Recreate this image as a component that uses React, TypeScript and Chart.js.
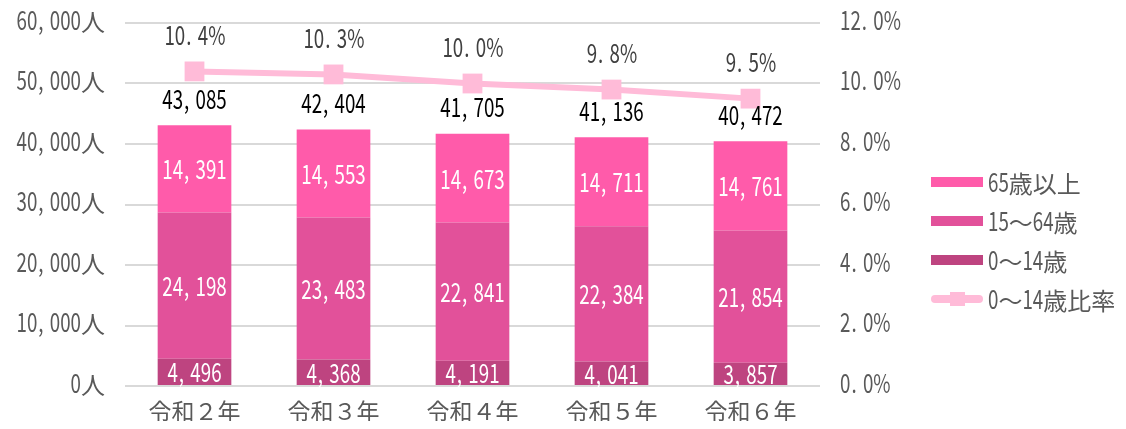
import React, { useEffect, useRef } from "react";
import { Chart, registerables } from "chart.js";

Chart.register(...registerables);

const categories = ["令和２年", "令和３年", "令和４年", "令和５年", "令和６年"];
const age0to14 = [4496, 4368, 4191, 4041, 3857];
const age15to64 = [24198, 23483, 22841, 22384, 21854];
const age65plus = [14391, 14553, 14673, 14711, 14761];
const totals = [43085, 42404, 41705, 41136, 40472];
const ratio0to14 = [10.4, 10.3, 10.0, 9.8, 9.5];

const seriesNames = ["65歳以上", "15～64歳", "0～14歳", "0～14歳比率"];
const leftTicks = [0, 10000, 20000, 30000, 40000, 50000, 60000];
const rightTicks = [0, 2, 4, 6, 8, 10, 12];

const C65 = "#FF5BAA";
const C15 = "#E2519A";
const C0 = "#BE4480";
const CLINE = "#FFBBD8";
const CJK = "'Noto Sans CJK JP', 'Noto Sans', sans-serif";
const GRAY = "#595959";

const fmt = (v: number) => v.toLocaleString("en-US");

// Draw text where digits/latin are rendered narrow (like a condensed UI font)
function drawText(
  ctx: CanvasRenderingContext2D,
  text: string,
  x: number,
  cy: number,
  align: "left" | "center" | "right",
  color: string,
  kanjiSize = 24
) {
  const numSize = 26;
  const digitAdv = 10.4;
  ctx.save();
  ctx.fillStyle = color;
  ctx.textBaseline = "alphabetic";
  ctx.textAlign = "left";
  ctx.font = `${numSize}px ${CJK}`;
  const sx = digitAdv / ctx.measureText("0").width;
  const parts: { ch: string; adv: number; kind: string }[] = [];
  for (const ch of text) {
    if (/[0-9]/.test(ch)) {
      parts.push({ ch, adv: digitAdv, kind: "num" });
    } else if (ch === "," || ch === ".") {
      parts.push({ ch, adv: 12.5, kind: "punct" });
    } else if (ch === "%") {
      ctx.font = `${numSize}px ${CJK}`;
      parts.push({ ch, adv: ctx.measureText(ch).width * sx * 0.95, kind: "num" });
    } else {
      ctx.font = `${kanjiSize}px ${CJK}`;
      parts.push({ ch, adv: ctx.measureText(ch).width, kind: "other" });
    }
  }
  const total = parts.reduce((s, p) => s + p.adv, 0);
  let px = align === "left" ? x : align === "center" ? x - total / 2 : x - total;
  const baseline = cy + 0.733 * numSize * 0.5;
  for (const p of parts) {
    if (p.kind === "other") {
      ctx.font = `${kanjiSize}px ${CJK}`;
      ctx.fillText(p.ch, px, baseline + 1);
    } else {
      ctx.font = `${numSize}px ${CJK}`;
      ctx.save();
      ctx.translate(px + (p.kind === "punct" ? 1 : 0), baseline);
      ctx.scale(sx, 1);
      ctx.fillText(p.ch, 0, 0);
      ctx.restore();
    }
    px += p.adv;
  }
  ctx.restore();
}

const labelsPlugin = {
  id: "customLabels",
  afterDatasetsDraw(chart: any) {
    const ctx = chart.ctx;
    const area = chart.chartArea;
    const yS = chart.scales.y;
    const y1S = chart.scales.y1;
    const xS = chart.scales.x;
    // axis tick labels
    leftTicks.forEach((v) => {
      drawText(ctx, fmt(v) + "人", area.left - 20, yS.getPixelForValue(v) - 3, "right", GRAY);
    });
    rightTicks.forEach((v) => {
      drawText(ctx, v.toFixed(1) + "%", area.right + 20, y1S.getPixelForValue(v) - 3, "left", GRAY);
    });
    ctx.save();
    ctx.font = `23px ${CJK}`;
    ctx.fillStyle = GRAY;
    ctx.textAlign = "center";
    ctx.textBaseline = "middle";
    categories.forEach((c, i) => {
      ctx.fillText(c, xS.getPixelForValue(i), area.bottom + 25);
    });
    ctx.restore();
    // bar values
    [0, 1, 2].forEach((di) => {
      const meta = chart.getDatasetMeta(di);
      const data = chart.data.datasets[di].data as number[];
      meta.data.forEach((el: any, i: number) => {
        const top = Math.min(el.y, el.base);
        const bot = Math.max(el.y, el.base);
        drawText(ctx, fmt(data[i]), el.x, (top + bot) / 2 + 1, "center", "#ffffff");
      });
    });
    const topMeta = chart.getDatasetMeta(2);
    topMeta.data.forEach((el: any, i: number) => {
      drawText(ctx, fmt(totals[i]), el.x, el.y - 26, "center", "#000000");
    });
    const lineMeta = chart.getDatasetMeta(3);
    lineMeta.data.forEach((el: any, i: number) => {
      drawText(ctx, ratio0to14[i].toFixed(1) + "%", el.x, el.y - 36, "center", "#404040");
    });
  },
};

const legendPlugin = {
  id: "customLegend",
  afterDraw(chart: any) {
    const ctx = chart.ctx;
    ctx.save();
    const x0 = 923;
    const w = 52;
    const rows = [174, 213, 252, 291];
    const cols = [C65, C15, C0];
    rows.forEach((y, i) => {
      if (i < 3) {
        ctx.fillStyle = cols[i];
        ctx.fillRect(x0, y - 5, w, 10);
      } else {
        ctx.strokeStyle = CLINE;
        ctx.lineWidth = 8;
        ctx.lineCap = "round";
        ctx.beginPath();
        ctx.moveTo(x0 + 4, y);
        ctx.lineTo(x0 + w - 4, y);
        ctx.stroke();
        ctx.fillStyle = CLINE;
        ctx.fillRect(x0 + 19, y - 7, 15, 14);
      }
      drawText(ctx, seriesNames[i], x0 + 57, y, "left", GRAY);
    });
    ctx.restore();
  },
};

export default function App() {
  const ref = useRef<HTMLCanvasElement>(null);
  useEffect(() => {
    if (!ref.current) return;
    const chart = new Chart(ref.current, {
      type: "bar",
      data: {
        labels: categories,
        datasets: [
          { label: seriesNames[2], data: age0to14, backgroundColor: C0, stack: "s", yAxisID: "y", order: 2 },
          { label: seriesNames[1], data: age15to64, backgroundColor: C15, stack: "s", yAxisID: "y", order: 2 },
          { label: seriesNames[0], data: age65plus, backgroundColor: C65, stack: "s", yAxisID: "y", order: 2 },
          {
            type: "line",
            label: seriesNames[3],
            data: ratio0to14,
            yAxisID: "y1",
            borderColor: CLINE,
            backgroundColor: CLINE,
            borderWidth: 6,
            pointStyle: "rect",
            pointRadius: 14,
            pointHoverRadius: 14,
            pointBackgroundColor: CLINE,
            pointBorderWidth: 0,
            tension: 0,
            order: 0,
          } as any,
        ],
      },
      options: {
        animation: false,
        responsive: false,
        maintainAspectRatio: false,
        layout: { padding: { top: 15, right: 298, left: 117, bottom: 35 } },
        datasets: { bar: { categoryPercentage: 1, barPercentage: 0.53 } } as any,
        plugins: { legend: { display: false }, tooltip: { enabled: false } },
        scales: {
          x: {
            display: false,
            stacked: true,
          },
          y: {
            stacked: true,
            min: 0,
            max: 60000,
            afterBuildTicks: (axis: any) => {
              axis.ticks = leftTicks.map((v) => ({ value: v }));
            },
            grid: { color: "#D9D9D9", lineWidth: 2, drawTicks: false },
            border: { display: false },
            ticks: { display: false },
          },
          y1: {
            display: false,
            position: "right",
            min: 0,
            max: 12,
          },
        },
      },
      plugins: [labelsPlugin, legendPlugin],
    });
    return () => chart.destroy();
  }, []);
  return (
    <div style={{ width: 1110, height: 413 }}>
      <canvas ref={ref} width={1110} height={413} style={{ width: 1110, height: 413 }} />
    </div>
  );
}
